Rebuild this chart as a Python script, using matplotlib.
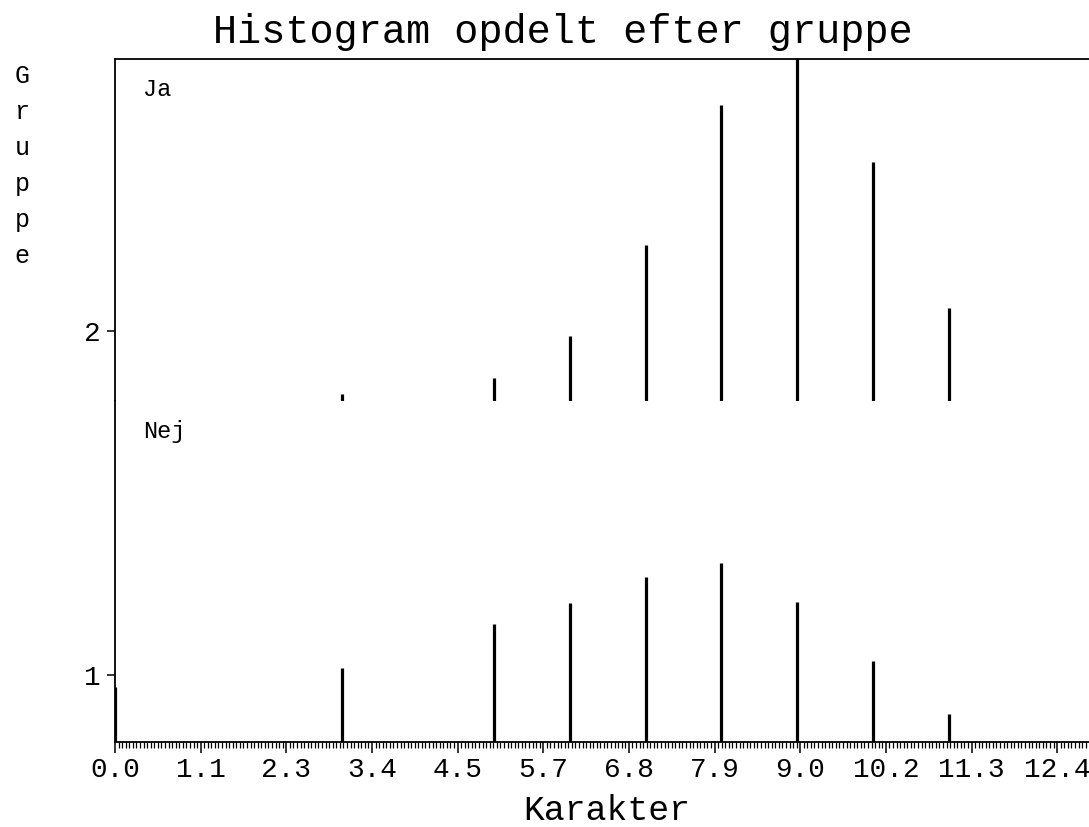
import numpy as np
import matplotlib
matplotlib.use("Agg")
import matplotlib.pyplot as plt
from matplotlib.ticker import FixedLocator, MultipleLocator, NullFormatter

# ---- data ----
karakter = [0, 3, 5, 6, 7, 8, 9, 10, 11]
ja_values = [0.0, 0.7, 2.3, 6.5, 15.6, 29.6, 36.0, 23.9, 9.3]
nej_values = [5.5, 7.4, 11.8, 13.9, 16.5, 18.0, 14.0, 8.1, 2.8]
panel_labels = ["Ja", "Nej"]
ytick_labels = ["2", "1"]
xtick_labels = ["0.0", "1.1", "2.3", "3.4", "4.5", "5.7", "6.8", "7.9",
                "9.0", "10.2", "11.3", "12.4"]
title = "Histogram opdelt efter gruppe"
xlabel = "Karakter"
ylabel = "Gruppe"

FONT = "Liberation Mono"
plt.rcParams["font.family"] = [FONT, "DejaVu Sans"]

W, H = 1089, 827
fig = plt.figure(figsize=(W / 100, H / 100), dpi=100)

def fx(px):
    return px / W

def fy(py):
    return 1 - py / H

left = fx(115)
top_ax = fig.add_axes([left, fy(401), 1 - left, (401 - 59) / H])
bot_ax = fig.add_axes([left, fy(742), 1 - left, (742 - 401) / H])

ymax = 34.2
step = 1.13
xmax = 12.85
lw_frame = 1.3

for ax, vals, lab, ylab, ytick in [
    (top_ax, ja_values, panel_labels[0], ytick_labels[0], 7.0),
    (bot_ax, nej_values, panel_labels[1], ytick_labels[1], 6.7),
]:
    ax.vlines(karakter, 0, vals, colors="black", linewidth=2.3,
              capstyle="butt")
    ax.set_xlim(0, xmax)
    ax.set_ylim(0, ymax)
    ax.yaxis.set_major_locator(FixedLocator([ytick]))
    ax.set_yticklabels([ylab])
    ax.tick_params(axis="y", direction="out", length=6, width=1.1,
                   labelsize=20, pad=4)
    ax.spines["right"].set_visible(False)
    for s in ["left", "top", "bottom"]:
        ax.spines[s].set_linewidth(lw_frame)
    ax.text(fx(143 - 115) / (1 - left), 1 - (90 - 59) / 342, lab,
            transform=ax.transAxes, fontsize=17, va="center", ha="left",
            family=FONT)

top_ax.spines["bottom"].set_visible(False)
top_ax.tick_params(axis="x", which="both", bottom=False, labelbottom=False)
bot_ax.spines["top"].set_visible(False)

majors = np.arange(len(xtick_labels)) * step
bot_ax.xaxis.set_major_locator(FixedLocator(majors))
bot_ax.set_xticklabels(xtick_labels)
bot_ax.xaxis.set_minor_locator(MultipleLocator(step / 24))
bot_ax.xaxis.set_minor_formatter(NullFormatter())
bot_ax.tick_params(axis="x", which="major", direction="out", length=8,
                   width=1.1, labelsize=20, pad=3)
bot_ax.tick_params(axis="x", which="minor", direction="out", length=4.5,
                   width=0.9)

fig.text(fx(563), fy(43), title, fontsize=29, ha="center", va="baseline",
         family=FONT)
fig.text(fx(607), fy(820), xlabel, fontsize=25, ha="center",
         va="baseline", family=FONT)
fig.text(fx(22), fy(166), "\n".join(ylabel), fontsize=18, ha="center",
         va="center", linespacing=1.64, family=FONT)

fig.savefig("out.png", dpi=100)
